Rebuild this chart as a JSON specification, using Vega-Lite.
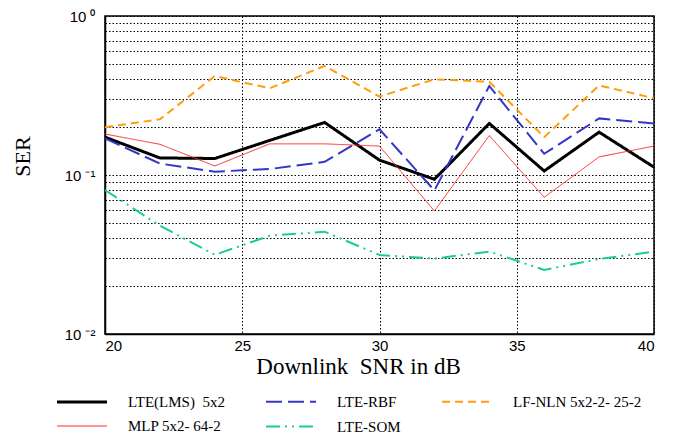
{
  "$schema": "https://vega.github.io/schema/vega-lite/v6.json",
  "width": 549,
  "height": 318,
  "autosize": "none",
  "padding": {"left": 105, "top": 16, "right": 19, "bottom": 101},
  "background": "white",
  "config": {
    "view": {"stroke": "black", "strokeWidth": 1.5}
  },
  "data": {
    "values": [
      {"x": 20, "ser": 0.173, "s": "LTE(LMS)\u00a0\u00a05x2"},
      {"x": 22, "ser": 0.128, "s": "LTE(LMS)\u00a0\u00a05x2"},
      {"x": 24, "ser": 0.127, "s": "LTE(LMS)\u00a0\u00a05x2"},
      {"x": 26, "ser": 0.165, "s": "LTE(LMS)\u00a0\u00a05x2"},
      {"x": 28, "ser": 0.214, "s": "LTE(LMS)\u00a0\u00a05x2"},
      {"x": 30, "ser": 0.124, "s": "LTE(LMS)\u00a0\u00a05x2"},
      {"x": 32, "ser": 0.094, "s": "LTE(LMS)\u00a0\u00a05x2"},
      {"x": 34, "ser": 0.211, "s": "LTE(LMS)\u00a0\u00a05x2"},
      {"x": 36, "ser": 0.106, "s": "LTE(LMS)\u00a0\u00a05x2"},
      {"x": 38, "ser": 0.186, "s": "LTE(LMS)\u00a0\u00a05x2"},
      {"x": 40, "ser": 0.112, "s": "LTE(LMS)\u00a0\u00a05x2"},

      {"x": 20, "ser": 0.170, "s": "LTE-RBF"},
      {"x": 22, "ser": 0.118, "s": "LTE-RBF"},
      {"x": 24, "ser": 0.105, "s": "LTE-RBF"},
      {"x": 26, "ser": 0.109, "s": "LTE-RBF"},
      {"x": 28, "ser": 0.121, "s": "LTE-RBF"},
      {"x": 30, "ser": 0.194, "s": "LTE-RBF"},
      {"x": 32, "ser": 0.080, "s": "LTE-RBF"},
      {"x": 34, "ser": 0.363, "s": "LTE-RBF"},
      {"x": 36, "ser": 0.136, "s": "LTE-RBF"},
      {"x": 38, "ser": 0.227, "s": "LTE-RBF"},
      {"x": 40, "ser": 0.211, "s": "LTE-RBF"},

      {"x": 20, "ser": 0.200, "s": "LF-NLN 5x2-2- 25-2"},
      {"x": 22, "ser": 0.224, "s": "LF-NLN 5x2-2- 25-2"},
      {"x": 24, "ser": 0.419, "s": "LF-NLN 5x2-2- 25-2"},
      {"x": 26, "ser": 0.351, "s": "LF-NLN 5x2-2- 25-2"},
      {"x": 28, "ser": 0.485, "s": "LF-NLN 5x2-2- 25-2"},
      {"x": 30, "ser": 0.311, "s": "LF-NLN 5x2-2- 25-2"},
      {"x": 32, "ser": 0.400, "s": "LF-NLN 5x2-2- 25-2"},
      {"x": 34, "ser": 0.386, "s": "LF-NLN 5x2-2- 25-2"},
      {"x": 36, "ser": 0.173, "s": "LF-NLN 5x2-2- 25-2"},
      {"x": 38, "ser": 0.366, "s": "LF-NLN 5x2-2- 25-2"},
      {"x": 40, "ser": 0.304, "s": "LF-NLN 5x2-2- 25-2"},

      {"x": 20, "ser": 0.181, "s": "MLP 5x2- 64-2"},
      {"x": 22, "ser": 0.156, "s": "MLP 5x2- 64-2"},
      {"x": 24, "ser": 0.114, "s": "MLP 5x2- 64-2"},
      {"x": 26, "ser": 0.157, "s": "MLP 5x2- 64-2"},
      {"x": 28, "ser": 0.157, "s": "MLP 5x2- 64-2"},
      {"x": 30, "ser": 0.152, "s": "MLP 5x2- 64-2"},
      {"x": 32, "ser": 0.0594, "s": "MLP 5x2- 64-2"},
      {"x": 34, "ser": 0.177, "s": "MLP 5x2- 64-2"},
      {"x": 36, "ser": 0.0724, "s": "MLP 5x2- 64-2"},
      {"x": 38, "ser": 0.130, "s": "MLP 5x2- 64-2"},
      {"x": 40, "ser": 0.152, "s": "MLP 5x2- 64-2"},

      {"x": 20, "ser": 0.0805, "s": "LTE-SOM"},
      {"x": 22, "ser": 0.048, "s": "LTE-SOM"},
      {"x": 24, "ser": 0.0315, "s": "LTE-SOM"},
      {"x": 26, "ser": 0.0415, "s": "LTE-SOM"},
      {"x": 28, "ser": 0.044, "s": "LTE-SOM"},
      {"x": 30, "ser": 0.0314, "s": "LTE-SOM"},
      {"x": 32, "ser": 0.0298, "s": "LTE-SOM"},
      {"x": 34, "ser": 0.033, "s": "LTE-SOM"},
      {"x": 36, "ser": 0.0253, "s": "LTE-SOM"},
      {"x": 38, "ser": 0.0296, "s": "LTE-SOM"},
      {"x": 40, "ser": 0.033, "s": "LTE-SOM"}
    ]
  },
  "mark": {"type": "line", "clip": true},
  "encoding": {
    "x": {
      "field": "x",
      "type": "quantitative",
      "scale": {"domain": [20, 40], "nice": false, "zero": false},
      "axis": {
        "values": [20, 25, 30, 35, 40],
        "title": "Downlink\u00a0\u00a0SNR in dB",
        "titleFont": "Liberation Serif",
        "titleFontSize": 23,
        "titleFontWeight": "normal",
        "titleColor": "black",
        "titleX": 253,
        "titleY": 21,
        "labelFont": "Liberation Sans",
        "labelFontSize": 15,
        "labelColor": "black",
        "labelPadding": 4,
        "ticks": false,
        "domainColor": "black",
        "domainWidth": 1.5,
        "grid": true,
        "gridColor": "black",
        "gridDash": [1.5, 2],
        "gridWidth": 1,
        "gridOpacity": 1
      }
    },
    "y": {
      "field": "ser",
      "type": "quantitative",
      "scale": {"type": "log", "domain": [0.01, 1], "nice": false},
      "axis": {
        "values": [0.01, 0.02, 0.03, 0.04, 0.05, 0.06, 0.07, 0.08, 0.09, 0.1, 0.2, 0.3, 0.4, 0.5, 0.6, 0.7, 0.8, 0.9, 1],
        "labelExpr": "datum.value >= 0.99 ? '10 ⁰' : (abs(datum.value - 0.1) < 0.001 ? '10 ⁻¹' : (abs(datum.value - 0.01) < 0.0001 ? '10 ⁻²' : ''))",
        "title": "SER",
        "titleFont": "Liberation Serif",
        "titleFontSize": 22,
        "titleFontWeight": "normal",
        "titleColor": "black",
        "titleX": -71,
        "titleY": 140,
        "labelFont": "Liberation Sans",
        "labelFontSize": 15,
        "labelColor": "black",
        "labelPadding": 10,
        "ticks": false,
        "domainColor": "black",
        "domainWidth": 1.5,
        "grid": true,
        "gridColor": "black",
        "gridDash": [1.5, 2],
        "gridWidth": 1,
        "gridOpacity": 1
      }
    },
    "color": {
      "field": "s",
      "type": "nominal",
      "scale": {
        "domain": ["LTE(LMS)\u00a0\u00a05x2", "LTE-RBF", "LF-NLN 5x2-2- 25-2", "MLP 5x2- 64-2", "LTE-SOM"],
        "range": ["#000000", "#3535c8", "#ff9e0a", "#ff2a2a", "#1ccb9c"]
      },
      "legend": {
        "title": null,
        "orient": "none",
        "legendX": -37,
        "legendY": 372,
        "columns": 3,
        "direction": "horizontal",
        "symbolType": "M-2,0L2,0",
        "symbolSize": 625,
        "symbolFillColor": "transparent",
        "labelFont": "Liberation Serif",
        "labelFontSize": 15,
        "labelColor": "black",
        "labelOffset": 32,
        "columnPadding": 37,
        "rowPadding": 3,
        "labelLimit": 300
      }
    },
    "strokeDash": {
      "field": "s",
      "type": "nominal",
      "scale": {
        "domain": ["LTE(LMS)\u00a0\u00a05x2", "LTE-RBF", "LF-NLN 5x2-2- 25-2", "MLP 5x2- 64-2", "LTE-SOM"],
        "range": [[1, 0], [16, 6], [8, 5], [1, 0], [14, 5, 2, 5, 2, 5]]
      },
      "legend": null
    },
    "strokeWidth": {
      "field": "s",
      "type": "nominal",
      "scale": {
        "type": "ordinal",
        "domain": ["LTE(LMS)\u00a0\u00a05x2", "LTE-RBF", "LF-NLN 5x2-2- 25-2", "MLP 5x2- 64-2", "LTE-SOM"],
        "range": [3, 2, 2, 1, 2]
      },
      "legend": null
    }
  }
}
